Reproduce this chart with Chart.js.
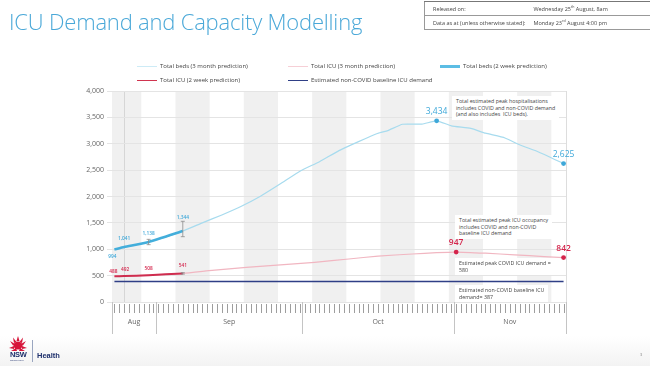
<!DOCTYPE html>
<html>
<head>
<meta charset="utf-8">
<title>ICU Demand and Capacity Modelling</title>
<script src="https://cdn.jsdelivr.net/npm/chart.js@4"></script>
<style>
  html, body { margin: 0; padding: 0; background: #fff; }
  body { width: 650px; height: 366px; position: relative; overflow: hidden; font-family: "Open Sans", "Noto Sans", sans-serif; }
  .fade { position: absolute; left: 0; top: 336px; width: 650px; height: 30px; background: linear-gradient(#ffffff, #f3f3f3); }
  #wrap { position: absolute; left: 0; top: 0; width: 650px; height: 366px; }
  h1 { position: absolute; left: 9px; top: 6px; margin: 0; font-weight: 300; font-size: 22px; color: #4aa8d8; letter-spacing: -0.2px; white-space: nowrap; }
  table.info { position: absolute; left: 424px; top: 1px; width: 240px; border-collapse: collapse; font-size: 5.5px; color: #444; }
  table.info td { border: 1px solid #999; border-left: none; border-right: none; height: 13px; padding: 0 0 0 8px; white-space: nowrap; }
  table.info tr:first-child td { border-top: 1px solid #777; }
  table.info td:first-child { border-left: 1px solid #999; width: 90px; }
  sup { font-size: 3.5px; }
  .legend { position: absolute; font-size: 6px; color: #444; white-space: nowrap; }
  .legend span.sample { display: inline-block; width: 20px; vertical-align: middle; margin-right: 3px; }
  .note { position: absolute; background: #fff; font-size: 5.3px; line-height: 6.6px; color: #444; padding: 2px 4px; white-space: nowrap; }
  .logo { position: absolute; left: 8px; top: 336px; }
  .nsw { position: absolute; left: 10px; top: 350px; font-weight: 700; font-size: 7.5px; color: #1d2f6b; letter-spacing: -0.3px; font-family: "Liberation Sans", Arial, sans-serif; }
  .gov { position: absolute; left: 10px; top: 359px; font-size: 2px; color: #1d2f6b; }
  .divider { position: absolute; left: 32px; top: 340px; width: 1px; height: 22px; background: #9aa6c0; }
  .health { position: absolute; left: 37px; top: 351px; font-weight: 700; font-size: 7.5px; color: #1d2f6b; font-family: "Liberation Sans", Arial, sans-serif; }
  .page { position: absolute; left: 640px; top: 352px; font-size: 4px; color: #888; }
</style>
</head>
<body>
<div class="fade"></div>
<div id="wrap"><canvas id="chart"></canvas></div>

<h1>ICU Demand and Capacity Modelling</h1>
<table class="info">
  <tr><td>Released on:</td><td>Wednesday 25<sup>th</sup> August, 8am</td></tr>
  <tr><td>Data as at (unless otherwise stated):</td><td>Monday 23<sup>rd</sup> August 4:00 pm</td></tr>
</table>

<div id="legend"></div>

<div class="note" style="left:452px; top:96px;">Total estimated peak hospitalisations<br>includes COVID and non-COVID demand<br>(and also includes&nbsp; ICU beds).</div>
<div class="note" style="left:455px; top:215px;">Total estimated peak ICU occupancy<br>includes COVID and non-COVID<br>baseline ICU demand</div>
<div class="note" style="left:455px; top:258px;">Estimated peak COVID ICU demand =<br>580</div>
<div class="note" style="left:455px; top:285px;">Estimated non-COVID baseline ICU<br>demand= 387</div>

<svg class="logo" width="20" height="16" viewBox="0 0 20 16">
  <g fill="#d7153a">
    <path d="M10 0 L11.5 5 L8.5 5 Z"/>
    <path d="M5 1.5 L8.5 6 L6 7 Z"/>
    <path d="M15 1.5 L14 7 L11.5 6 Z"/>
    <path d="M2 5 L7 8 L5 9.5 Z"/>
    <path d="M18 5 L15 9.5 L13 8 Z"/>
    <ellipse cx="10" cy="9.5" rx="4.5" ry="4"/>
    <path d="M1 12 L6 10 L6 13 Z"/>
    <path d="M19 12 L14 10 L14 13 Z"/>
    <path d="M3 15 L8 12 L9 15 Z"/>
    <path d="M17 15 L12 12 L11 15 Z"/>
  </g>
</svg>
<div class="nsw">NSW</div>
<div class="gov">GOVERNMENT</div>
<div class="divider"></div>
<div class="health">Health</div>
<div class="page">3</div>

<script>
// Days are counted from Monday 23 August 2021 (day 0) to 23 November (day 92)
const lastDay = 92;
const monthNames = ['Aug', 'Sep', 'Oct', 'Nov'];
const monthStartDays = [0, 9, 39, 70];
const shadedWeekStarts = [-1, 13, 27, 41, 55, 69, 83]; // alternating grey weeks
const releaseDay = 2;
const yTicks = [0, 500, 1000, 1500, 2000, 2500, 3000, 3500, 4000];

// 3 month projection
const bedsLongDays = [0, 2, 7, 14, 18, 22, 26, 30, 34, 38, 42, 46, 50, 54, 56, 59, 63, 66, 69, 73, 76, 80, 83, 87, 92];
const bedsLong = [994, 1041, 1138, 1344, 1500, 1650, 1815, 2010, 2240, 2480, 2660, 2870, 3040, 3200, 3250, 3370, 3372, 3434, 3340, 3290, 3200, 3110, 2980, 2840, 2625];
const icuLongDays = [0, 2, 7, 14, 20, 27, 34, 41, 48, 54, 61, 66, 70, 76, 82, 88, 92];
const icuLong = [488, 492, 508, 541, 598, 657, 705, 752, 815, 870, 910, 935, 947, 925, 895, 862, 842];

// 2 week projection
const shortDays = [0, 2, 7, 14];
const bedsShort = [994, 1041, 1138, 1344];
const bedsShortLow = [null, null, 1087, 1238];
const bedsShortHigh = [null, null, 1188, 1530];
const icuShort = [488, 492, 508, 541];
const icuShortLow = [null, null, null, 528];
const icuShortHigh = [null, null, null, 556];

// baseline
const baselineDays = [0, 92];
const baseline = [387, 387];

const dayTicks = [];
for (let d = 0; d <= lastDay; d++) dayTicks.push(d);

function pts(days, vals) {
    return days.map((d, k) => ({ x: d, y: vals[k] }));
}

const datasets = [
    {
        label: 'Total beds (3 month prediction)',
        data: pts(bedsLongDays, bedsLong),
        borderColor: '#a7dbee', borderWidth: 1.2,
        pointRadius: c => [17, 24].includes(c.dataIndex) ? 2.4 : 0,
        pointBackgroundColor: '#3ea8d9', pointBorderWidth: 0,
        valueLabels: [{ i: 17, dy: -9 }, { i: 24, dy: -9 }],
        labelColor: '#3ea8d9', labelSize: 8.5, labelWeight: '400',
        legendWidth: 1.5, legendColor: '#cdebf6'
    },
    {
        label: 'Total ICU (3 month prediction)',
        data: pts(icuLongDays, icuLong),
        borderColor: '#f1b6c1', borderWidth: 1.2,
        pointRadius: c => [12, 16].includes(c.dataIndex) ? 2.4 : 0,
        pointBackgroundColor: '#d4244b', pointBorderWidth: 0,
        valueLabels: [{ i: 12, dy: -9 }, { i: 16, dy: -9 }],
        labelColor: '#d4244b', labelSize: 8.5, labelWeight: '600',
        legendWidth: 1.5, legendColor: '#f6cfd6'
    },
    {
        label: 'Total beds (2 week prediction)',
        data: pts(shortDays, bedsShort),
        borderColor: '#43aedb', borderWidth: 2.6,
        pointRadius: 0, order: -1,
        errLow: bedsShortLow, errHigh: bedsShortHigh,
        valueLabels: [{ i: 0, dy: 7, dx: -2 }, { i: 1, dy: -8 }, { i: 2, dy: -8 }, { i: 3, dy: -13 }],
        labelColor: '#3ea8d9', labelSize: 4.8, labelWeight: '600',
        legendWidth: 3, legendColor: '#5cbde4'
    },
    {
        label: 'Total ICU  (2 week prediction)',
        data: pts(shortDays, icuShort),
        borderColor: '#cf2d4f', borderWidth: 2,
        pointRadius: 0, order: -1,
        errLow: icuShortLow, errHigh: icuShortHigh,
        valueLabels: [{ i: 0, dy: -5, dx: -1 }, { i: 1, dy: -6, dx: 1 }, { i: 2, dy: -7 }, { i: 3, dy: -8 }],
        labelColor: '#d4244b', labelSize: 4.8, labelWeight: '600',
        legendWidth: 1.5, legendColor: '#d0344f'
    },
    {
        label: 'Estimated non-COVID baseline ICU demand',
        data: pts(baselineDays, baseline),
        borderColor: '#2f3f86', borderWidth: 1.5,
        pointRadius: 0,
        legendWidth: 1.5, legendColor: '#2f3f86'
    }
];

// grey week bands and the release-day marker
const bands = {
    id: 'bands',
    beforeDraw(chart) {
        const { ctx, chartArea: a, scales: { x } } = chart;
        ctx.save();
        ctx.fillStyle = '#f0f0f0';
        shadedWeekStarts.forEach(s => {
            const l = x.getPixelForValue(Math.max(s - 0.5, -0.5));
            const r = x.getPixelForValue(Math.min(s + 6.5, lastDay + 0.5));
            ctx.fillRect(l, a.top, r - l, a.bottom - a.top);
        });
        ctx.strokeStyle = '#d6d6d6';
        ctx.lineWidth = 1;
        const rx = Math.round(x.getPixelForValue(releaseDay)) + 0.5;
        ctx.beginPath(); ctx.moveTo(rx, a.top); ctx.lineTo(rx, a.bottom); ctx.stroke();
        ctx.strokeStyle = '#dddddd';
        const ex = Math.round(a.right) + 0.5;
        ctx.beginPath(); ctx.moveTo(ex, a.top); ctx.lineTo(ex, a.bottom); ctx.stroke();
        ctx.restore();
    }
};

// day ticks, month separators and month names under the axis
const months = {
    id: 'months',
    afterDraw(chart) {
        const { ctx, chartArea: a, scales: { x } } = chart;
        const edges = monthStartDays.map(d => d - 0.5).concat([lastDay + 0.5]);
        ctx.save();
        ctx.fillStyle = '#9e9e9e';
        dayTicks.forEach(d => {
            const px = Math.round(x.getPixelForValue(d));
            ctx.fillRect(px, a.bottom + 2, 1, 9);
        });
        ctx.strokeStyle = '#c4c4c4';
        ctx.lineWidth = 1;
        edges.forEach(e => {
            const px = Math.round(x.getPixelForValue(e)) + 0.5;
            ctx.beginPath(); ctx.moveTo(px, a.bottom); ctx.lineTo(px, a.bottom + 32); ctx.stroke();
        });
        ctx.fillStyle = '#666';
        ctx.font = '7px "Open Sans", sans-serif';
        ctx.textAlign = 'center';
        ctx.textBaseline = 'middle';
        monthNames.forEach((m, k) => {
            const c = (x.getPixelForValue(edges[k]) + x.getPixelForValue(edges[k + 1])) / 2;
            ctx.fillText(m, c, a.bottom + 20);
        });
        ctx.restore();
    }
};

// error bars and value labels
const marks = {
    id: 'marks',
    afterDatasetsDraw(chart) {
        const { ctx, scales: { y } } = chart;
        chart.data.datasets.forEach((ds, i) => {
            const meta = chart.getDatasetMeta(i);
            ctx.save();
            if (ds.errLow) {
                ctx.strokeStyle = '#8a8a8a';
                ctx.lineWidth = 0.8;
                ds.errLow.forEach((lo, k) => {
                    if (lo == null) return;
                    const px = meta.data[k].x;
                    const top = y.getPixelForValue(ds.errHigh[k]);
                    const bot = y.getPixelForValue(lo);
                    ctx.beginPath();
                    ctx.moveTo(px, top); ctx.lineTo(px, bot);
                    ctx.moveTo(px - 2, top); ctx.lineTo(px + 2, top);
                    ctx.moveTo(px - 2, bot); ctx.lineTo(px + 2, bot);
                    ctx.stroke();
                });
            }
            if (ds.valueLabels) {
                ctx.fillStyle = ds.labelColor;
                ctx.font = ds.labelWeight + ' ' + ds.labelSize + 'px "Open Sans", sans-serif';
                ctx.textAlign = 'center';
                ctx.textBaseline = 'middle';
                ds.valueLabels.forEach(l => {
                    const p = meta.data[l.i];
                    ctx.fillText(ds.data[l.i].y.toLocaleString('en-US'), p.x + (l.dx || 0), p.y + l.dy);
                });
            }
            ctx.restore();
        });
    }
};

const chart = new Chart(document.getElementById('chart'), {
    type: 'line',
    data: { datasets },
    options: {
        responsive: true,
        maintainAspectRatio: false,
        animation: false,
        layout: { padding: { left: 62, top: 91, right: 84, bottom: 0 } },
        elements: { line: { tension: 0.15 } },
        plugins: { legend: { display: false }, tooltip: { enabled: false } },
        scales: {
            x: {
                type: 'linear',
                min: -0.5,
                max: lastDay + 0.5,
                afterFit: s => { s.height = 64; },
                ticks: { display: false },
                grid: { display: false },
                border: { display: false }
            },
            y: {
                min: 0,
                max: 4000,
                afterBuildTicks: s => { s.ticks = yTicks.map(v => ({ value: v })); },
                afterFit: s => { s.width = 50; },
                ticks: {
                    color: '#666',
                    font: { size: 7, family: '"Open Sans", sans-serif' },
                    padding: 3,
                    callback: v => v.toLocaleString('en-US')
                },
                grid: { color: '#e4e4e4', tickLength: 5 },
                border: { display: false }
            }
        }
    },
    plugins: [bands, months, marks]
});

// three-column legend like the original slide
const legendPos = [[137, 62], [288, 62], [440, 62], [137, 76], [288, 76]];
const legendBox = document.getElementById('legend');
datasets.forEach((ds, k) => {
    const div = document.createElement('div');
    div.className = 'legend';
    div.style.left = legendPos[k][0] + 'px';
    div.style.top = legendPos[k][1] + 'px';
    div.innerHTML = '<span class="sample" style="border-top:' + ds.legendWidth + 'px solid ' + ds.legendColor + '"></span>' + ds.label;
    legendBox.appendChild(div);
});
</script>
</body>
</html>
